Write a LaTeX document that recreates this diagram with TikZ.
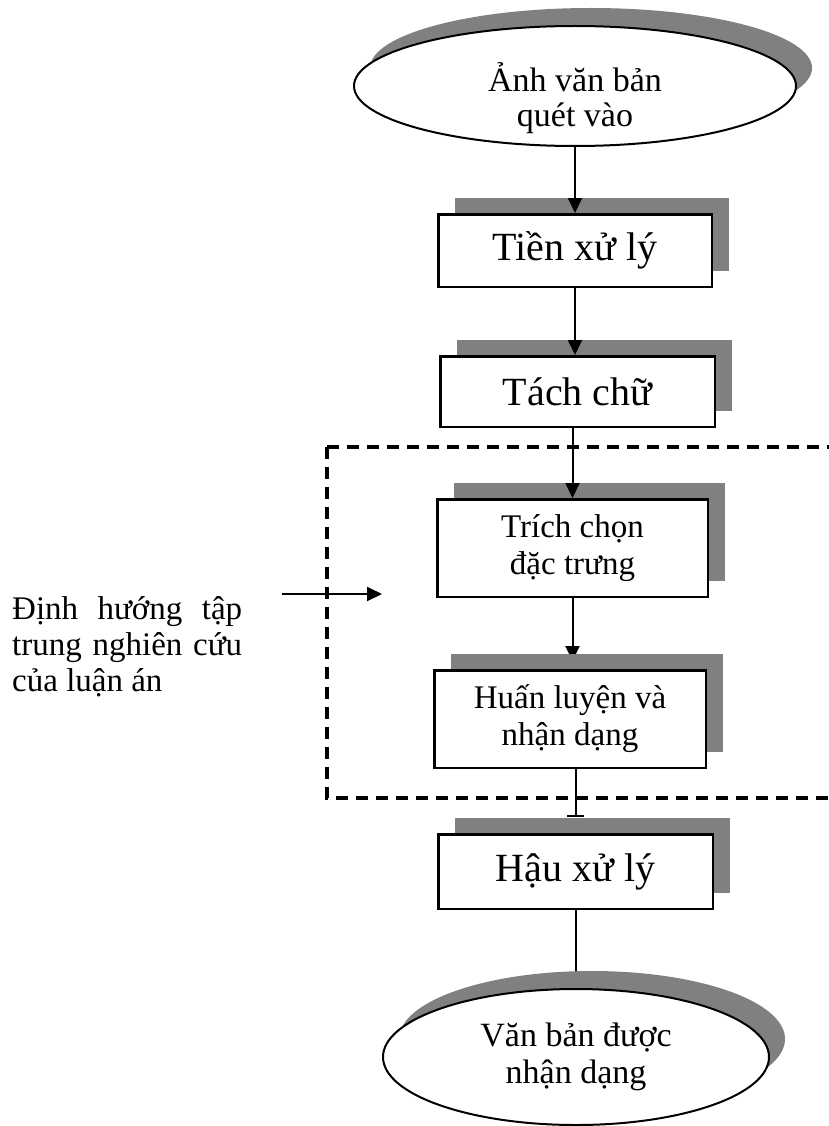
\documentclass[tikz,border=0pt]{standalone}
\usepackage{fontspec}
\setmainfont{Liberation Serif}
\usetikzlibrary{shapes.geometric,shadows,arrows.meta,backgrounds}
\definecolor{shadowgray}{RGB}{128,128,128}
\begin{document}
\begin{tikzpicture}[x=1pt,y=-1pt,
  box/.style={draw, line width=2.5pt, fill=white, inner sep=0pt, align=center,
    drop shadow={shadow xshift=17pt, shadow yshift=16pt, fill=shadowgray, opacity=1}},
  oval/.style={ellipse, draw, line width=2pt, fill=white, inner sep=0pt, align=center,
    drop shadow={shadow xshift=16pt, shadow yshift=18pt, fill=shadowgray, opacity=1}},
  big/.style={font=\fontsize{40}{44}\selectfont},
  mid/.style={font=\fontsize{33}{37}\selectfont, align=center},
  conn/.style={line width=2pt},
  arr/.style={conn, -{Triangle[length=15pt,width=14pt]}},
  region/.style={line width=3.5pt, dash pattern=on 12pt off 8pt}
]
\useasboundingbox (0,0) rectangle (829,1126);
\clip (0,0) rectangle (829,1126);

% nodes
\node[oval, minimum width=442pt, minimum height=120pt] (scan) at (575,86) {};
\node[mid, font=\fontsize{34}{35}\selectfont, inner sep=0pt] (scantext) at (575,98) {Ảnh văn bản\\quét vào};
\node[box, big, minimum width=273.5pt, minimum height=72.5pt] (pre) at (575,250.5) {Tiền xử lý};
\node[box, big, minimum width=274.5pt, minimum height=70.5pt] (sep) at (577.5,391.5) {Tách chữ};
\node[box, mid, minimum width=270.5pt, minimum height=97.5pt] (feat) at (572.5,548) {Trích chọn\\đặc trưng};
\node[box, mid, minimum width=271.5pt, minimum height=97.5pt] (train) at (570,719) {Huấn luyện và\\nhận dạng};
\node[box, big, minimum width=274.5pt, minimum height=74.5pt] (post) at (575.5,871.5) {Hậu xử lý};
\node[oval, mid, font=\fontsize{34}{37}\selectfont, minimum width=386pt, minimum height=136pt] (out) at (576,1057) {Văn bản được\\nhận dạng};

% side text
\node[font=\fontsize{33}{36}\selectfont, align=left, inner sep=0pt, anchor=west] (focus) at (12,647)
  {\makebox[230pt][s]{Định hướng tập}\\\makebox[230pt][s]{trung nghiên cứu}\\của luận án};
\coordinate (fa) at (282,594);
\coordinate (fb) at (382,594);

% connectors over shadows
\draw[arr] (scan.south) -- (pre.north);
\draw[arr] (pre.south) -- (pre.south |- sep.north);
\draw[arr] (sep.south -| feat.north) -- (feat.north);
\draw[arr] (fa) -- (fb);

% connectors under shadows
\begin{scope}[on background layer]
\draw[arr, shorten >=8pt] (feat.south) -- (feat.south |- train.north);
\draw[conn, -{Bar[width=17pt, line width=2pt]}, shorten >=16pt] (train.south -| post.north) -- (post.north);
\draw[conn] (post.south) -- (post.south |- out.north);
\end{scope}

% dashed region
\draw[region] (327,447) -- (850,447) (327,447) -- (327,798) -- (850,798);
\end{tikzpicture}
\end{document}
